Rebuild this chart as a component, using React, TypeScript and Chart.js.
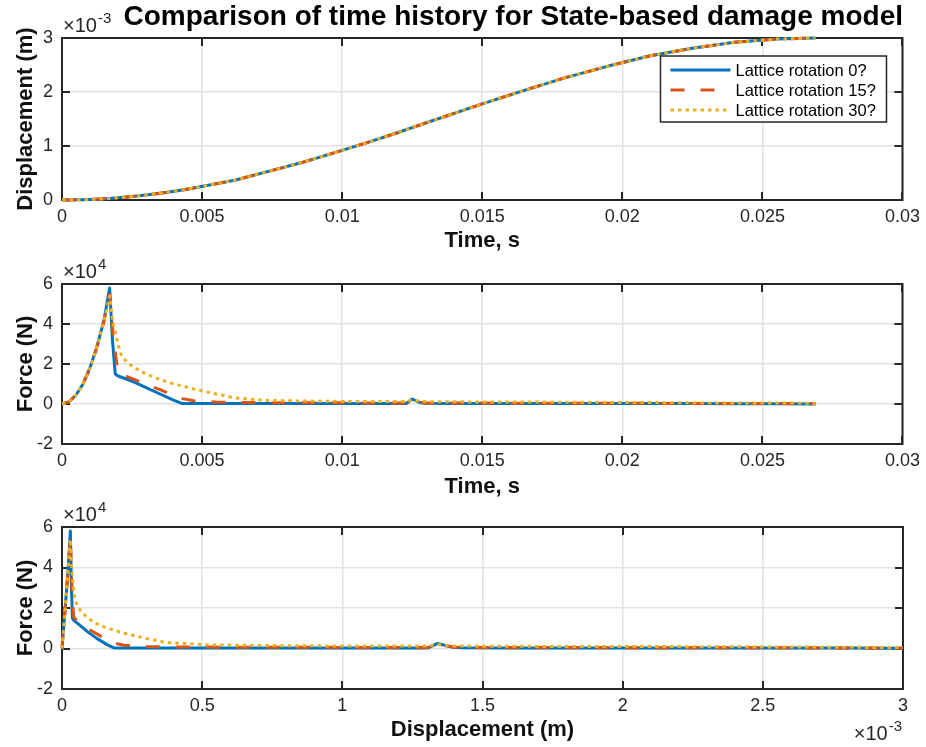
import React, { useEffect, useRef } from 'react';
import { Chart, registerables } from 'chart.js';

Chart.register(...registerables);

const FONT = '"Liberation Sans", Arial, Helvetica, sans-serif';
const BLUE = '#0072BD';
const RED = '#D95319';
const YELLOW = '#EDB120';
const AXIS = '#262626';
const GRID = '#e2e2e2';

// ---- data ----
const timeS = [
  0, 0.00025, 0.0005, 0.00075, 0.001, 0.00125, 0.0015, 0.0017, 0.0018, 0.0019,
  0.002, 0.0021, 0.0023, 0.0026, 0.003, 0.0035, 0.004, 0.0043, 0.0047, 0.0055,
  0.0062, 0.0073, 0.0085, 0.01, 0.011, 0.012, 0.0123, 0.0125, 0.0128, 0.013,
  0.014, 0.015, 0.0165, 0.018, 0.0195, 0.021, 0.0225, 0.024, 0.0255, 0.0269,
];
// displacement, units of 1e-3 m
const dispE3 = [
  0, 0.0006, 0.0026, 0.0058, 0.0103, 0.0161, 0.0232, 0.0298, 0.0333, 0.0372,
  0.0412, 0.0454, 0.0545, 0.0696, 0.0918, 0.124, 0.162, 0.187, 0.222, 0.3,
  0.37, 0.52, 0.684, 0.918, 1.08, 1.25, 1.306, 1.34, 1.394, 1.43,
  1.605, 1.78, 2.03, 2.27, 2.48, 2.67, 2.81, 2.92, 2.98, 3.0,
];
// force, units of 1e4 N
const forceRot0E4 = [
  0, 0.1, 0.45, 1.0, 1.82, 2.87, 4.2, 5.8, 3.2, 1.5,
  1.4, 1.35, 1.25, 1.08, 0.82, 0.5, 0.18, 0.02, 0.02, 0.02,
  0.02, 0.02, 0.02, 0.03, 0.03, 0.03, 0.03, 0.25, 0.06, 0.04,
  0.03, 0.03, 0.03, 0.02, 0.02, 0.02, 0.02, 0.01, 0.01, 0.0,
];
const forceRot15E4 = [
  0, 0.1, 0.45, 1.0, 1.8, 2.85, 4.15, 5.45, 3.8, 2.6,
  1.6, 1.48, 1.38, 1.22, 0.98, 0.72, 0.42, 0.27, 0.16, 0.1,
  0.08, 0.07, 0.06, 0.06, 0.05, 0.05, 0.05, 0.2, 0.08, 0.05,
  0.05, 0.05, 0.04, 0.04, 0.04, 0.03, 0.03, 0.03, 0.02, 0.02,
];
const forceRot30E4 = [
  0, 0.1, 0.45, 1.0, 1.8, 2.85, 4.15, 5.4, 4.2, 3.6,
  3.0, 2.5, 2.1, 1.8, 1.5, 1.22, 1.0, 0.9, 0.75, 0.5,
  0.3, 0.18, 0.15, 0.13, 0.12, 0.12, 0.12, 0.2, 0.13, 0.12,
  0.11, 0.1, 0.1, 0.09, 0.08, 0.07, 0.06, 0.05, 0.05, 0.04,
];
const seriesLabels = ['Lattice rotation 0?', 'Lattice rotation 15?', 'Lattice rotation 30?'];

const timeTicks = [0, 0.005, 0.01, 0.015, 0.02, 0.025, 0.03];
const timeTickLabels = ['0', '0.005', '0.01', '0.015', '0.02', '0.025', '0.03'];
const dispTicks = [0, 1, 2, 3];
const dispTickLabels = ['0', '1', '2', '3'];
const forceTicks = [-2, 0, 2, 4, 6];
const forceTickLabels = ['-2', '0', '2', '4', '6'];
const dispXTicks = [0, 0.5, 1, 1.5, 2, 2.5, 3];
const dispXTickLabels = ['0', '0.5', '1', '1.5', '2', '2.5', '3'];

const TITLE = 'Comparison of time history for State-based damage model';

// ---- plugins ----
const axesBoxPlugin = {
  id: 'axesBox',
  beforeDatasetsDraw(chart: any) {
    const { ctx, chartArea: a, scales } = chart;
    ctx.save();
    ctx.strokeStyle = AXIS;
    ctx.lineWidth = 2;
    ctx.strokeRect(a.left, a.top, a.right - a.left, a.bottom - a.top);
    const L = 8;
    ctx.beginPath();
    scales.x.ticks.forEach((t: any) => {
      const px = Math.round(scales.x.getPixelForValue(t.value));
      ctx.moveTo(px, a.bottom);
      ctx.lineTo(px, a.bottom - L);
      ctx.moveTo(px, a.top);
      ctx.lineTo(px, a.top + L);
    });
    scales.y.ticks.forEach((t: any) => {
      const py = Math.round(scales.y.getPixelForValue(t.value));
      ctx.moveTo(a.left, py);
      ctx.lineTo(a.left + L, py);
      ctx.moveTo(a.right, py);
      ctx.lineTo(a.right - L, py);
    });
    ctx.stroke();
    ctx.restore();
  },
};

const expPlugin = {
  id: 'expLabel',
  afterDraw(chart: any, _args: any, opts: any) {
    const items = (opts && opts.items) || [];
    const { ctx, chartArea: a } = chart;
    ctx.save();
    ctx.fillStyle = AXIS;
    ctx.textBaseline = 'alphabetic';
    ctx.textAlign = 'left';
    items.forEach((it: any) => {
      const baseFont = `20px ${FONT}`;
      const supFont = `15px ${FONT}`;
      ctx.font = baseFont;
      const bw = ctx.measureText(it.base).width;
      ctx.font = supFont;
      const sw = ctx.measureText(it.sup).width;
      let x: number;
      let y: number;
      if (it.where === 'top') {
        x = a.left + 1;
        y = a.top - 6;
      } else {
        x = a.right - bw - sw - 2;
        y = a.bottom + 51;
      }
      ctx.font = baseFont;
      ctx.fillText(it.base, x, y);
      ctx.font = supFont;
      ctx.fillText(it.sup, x + bw + 1, y - 9);
    });
    ctx.restore();
  },
};

const legendPlugin = {
  id: 'boxLegend',
  afterDatasetsDraw(chart: any, _args: any, opts: any) {
    if (!opts || !opts.show) return;
    const { ctx, chartArea: a } = chart;
    const w = 226;
    const h = 66;
    const x0 = a.right - 16 - w;
    const y0 = a.top + 18;
    ctx.save();
    ctx.fillStyle = '#ffffff';
    ctx.fillRect(x0, y0, w, h);
    ctx.strokeStyle = AXIS;
    ctx.lineWidth = 1.5;
    ctx.strokeRect(x0, y0, w, h);
    chart.data.datasets.forEach((ds: any, i: number) => {
      const yy = y0 + 14 + i * 20;
      ctx.beginPath();
      ctx.strokeStyle = ds.borderColor;
      ctx.lineWidth = ds.borderWidth;
      ctx.setLineDash(ds.borderDash || []);
      ctx.moveTo(x0 + 10, yy);
      ctx.lineTo(x0 + 70, yy);
      ctx.stroke();
      ctx.setLineDash([]);
      ctx.fillStyle = '#000';
      ctx.font = `16.5px ${FONT}`;
      ctx.textBaseline = 'middle';
      ctx.textAlign = 'left';
      ctx.fillText(ds.label, x0 + 75, yy + 1);
    });
    ctx.restore();
  },
};

// ---- helpers ----
function seriesData(xs: number[], ys: number[]) {
  return xs.map((x, i) => ({ x, y: ys[i] }));
}

function datasets(xs: number[], ys0: number[], ys1: number[], ys2: number[]) {
  const common = {
    pointRadius: 0,
    pointHoverRadius: 0,
    borderWidth: 3,
    fill: false,
    tension: 0,
    clip: 6,
    borderJoinStyle: 'round',
  };
  return [
    { ...common, label: seriesLabels[0], data: seriesData(xs, ys0), borderColor: BLUE, order: 3 },
    { ...common, label: seriesLabels[1], data: seriesData(xs, ys1), borderColor: RED, borderDash: [14, 16], order: 2 },
    { ...common, label: seriesLabels[2], data: seriesData(xs, ys2), borderColor: YELLOW, borderDash: [3.5, 4], order: 1 },
  ];
}

function scale(opts: {
  axis: 'x' | 'y';
  min: number;
  max: number;
  ticks: number[];
  labels: string[];
  title: string;
  size: number;
  titlePad: any;
}) {
  return {
    type: 'linear',
    position: opts.axis === 'x' ? 'bottom' : 'left',
    min: opts.min,
    max: opts.max,
    afterBuildTicks: (s: any) => {
      s.ticks = opts.ticks.map((v) => ({ value: v }));
    },
    afterFit: (s: any) => {
      if (opts.axis === 'x') s.height = opts.size;
      else s.width = opts.size;
    },
    ticks: {
      autoSkip: false,
      maxRotation: 0,
      minRotation: 0,
      padding: opts.axis === 'x' ? 6 : 9,
      color: AXIS,
      font: { family: FONT, size: 18 },
      callback: (_v: any, i: number) => opts.labels[i],
    },
    grid: { drawTicks: false, color: GRID, lineWidth: 1.5 },
    border: { display: false },
    title: {
      display: true,
      text: opts.title,
      color: '#111',
      font: { family: FONT, size: 22, weight: 'bold' },
      padding: opts.titlePad,
    },
  };
}

function topConfig(): any {
  return {
    type: 'line',
    data: { datasets: datasets(timeS, dispE3, dispE3, dispE3) },
    options: {
      responsive: false,
      animation: false,
      events: [],
      layout: { padding: { left: 0, right: 23, top: 0, bottom: 0 } },
      plugins: {
        legend: { display: false },
        tooltip: { enabled: false },
        title: {
          display: true,
          text: TITLE,
          align: 'end',
          color: '#000',
          font: { family: FONT, size: 28, weight: 'bold' },
          padding: { top: 0.7, bottom: 3.7 },
        },
        expLabel: { items: [{ base: '×10', sup: '-3', where: 'top' }] },
        boxLegend: { show: true },
      },
      scales: {
        x: scale({ axis: 'x', min: 0, max: 0.03, ticks: timeTicks, labels: timeTickLabels, title: 'Time, s', size: 55, titlePad: { top: 0, bottom: 1 } }),
        y: scale({ axis: 'y', min: 0, max: 3, ticks: dispTicks, labels: dispTickLabels, title: 'Displacement (m)', size: 62, titlePad: { top: 13, bottom: 0 } }),
      },
    },
    plugins: [axesBoxPlugin, expPlugin, legendPlugin],
  };
}

function middleConfig(): any {
  return {
    type: 'line',
    data: { datasets: datasets(timeS, forceRot0E4, forceRot15E4, forceRot30E4) },
    options: {
      responsive: false,
      animation: false,
      events: [],
      layout: { padding: { left: 0, right: 23, top: 38, bottom: 0 } },
      plugins: {
        legend: { display: false },
        tooltip: { enabled: false },
        expLabel: { items: [{ base: '×10', sup: '4', where: 'top' }] },
      },
      scales: {
        x: scale({ axis: 'x', min: 0, max: 0.03, ticks: timeTicks, labels: timeTickLabels, title: 'Time, s', size: 57, titlePad: { top: 0, bottom: 1 } }),
        y: scale({ axis: 'y', min: -2, max: 6, ticks: forceTicks, labels: forceTickLabels, title: 'Force (N)', size: 62, titlePad: { top: 13, bottom: 0 } }),
      },
    },
    plugins: [axesBoxPlugin, expPlugin],
  };
}

function bottomConfig(): any {
  return {
    type: 'line',
    data: { datasets: datasets(dispE3, forceRot0E4, forceRot15E4, forceRot30E4) },
    options: {
      responsive: false,
      animation: false,
      events: [],
      layout: { padding: { left: 0, right: 23, top: 37, bottom: 0 } },
      plugins: {
        legend: { display: false },
        tooltip: { enabled: false },
        expLabel: {
          items: [
            { base: '×10', sup: '4', where: 'top' },
            { base: '×10', sup: '-3', where: 'bottomright' },
          ],
        },
      },
      scales: {
        x: scale({ axis: 'x', min: 0, max: 3, ticks: dispXTicks, labels: dispXTickLabels, title: 'Displacement (m)', size: 58, titlePad: { top: 0, bottom: 4 } }),
        y: scale({ axis: 'y', min: -2, max: 6, ticks: forceTicks, labels: forceTickLabels, title: 'Force (N)', size: 62, titlePad: { top: 13, bottom: 0 } }),
      },
    },
    plugins: [axesBoxPlugin, expPlugin],
  };
}

function ChartCanvas({ make, top, height }: { make: () => any; top: number; height: number }) {
  const ref = useRef<HTMLCanvasElement>(null);
  useEffect(() => {
    const chart = new Chart(ref.current as HTMLCanvasElement, make());
    return () => chart.destroy();
  }, []);
  return (
    <canvas
      ref={ref}
      width={926}
      height={height}
      style={{ position: 'absolute', left: 0, top, width: 926, height, display: 'block' }}
    />
  );
}

export default function App() {
  return (
    <div style={{ position: 'absolute', left: 0, top: 0, width: 926, height: 747, background: '#fff', overflow: 'hidden' }}>
      <ChartCanvas make={topConfig} top={0} height={255} />
      <ChartCanvas make={middleConfig} top={246} height={255} />
      <ChartCanvas make={bottomConfig} top={490} height={257} />
    </div>
  );
}
